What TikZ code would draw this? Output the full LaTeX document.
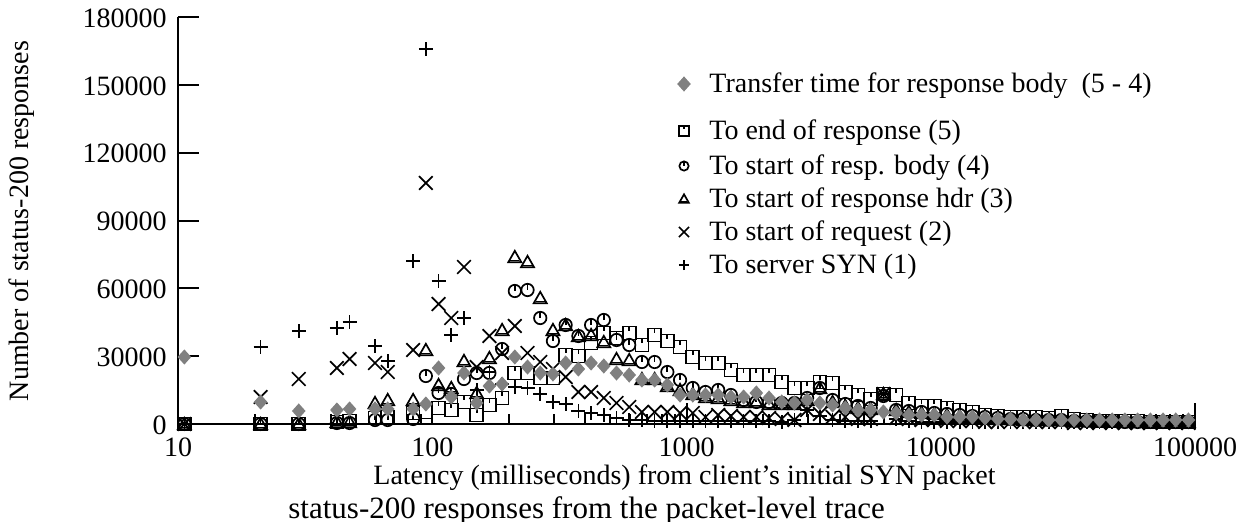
\documentclass[tikz,border=0pt]{standalone}
\usepackage{fontspec}
\setmainfont{Liberation Serif}
\definecolor{dgray}{RGB}{128,128,128}
\tikzset{
  mk/.style={line width=0.85pt, black},
  axisline/.style={line width=1pt, black},
  pics/msq/.style={code={\draw[mk] (-3.25pt,-3.25pt) rectangle (3.25pt,3.25pt); \draw[mk] (0pt,3.25pt) -- (0pt,1.1pt);}},
  pics/mci/.style={code={\draw[mk] (0pt,0pt) circle (3.1pt); \draw[mk] (0pt,3.1pt) -- (0pt,0pt);}},
  pics/mtr/.style={code={\draw[mk] (-3.25pt,-2.6pt) -- (3.25pt,-2.6pt) -- (0pt,3.1pt) -- cycle; \draw[mk] (-2.3pt,-1.7pt) -- (2.3pt,-1.7pt);}},
  pics/mx/.style={code={\draw[mk] (-3.4pt,-3.4pt) -- (3.4pt,3.4pt) (-3.4pt,3.4pt) -- (3.4pt,-3.4pt);}},
  pics/mp/.style={code={\draw[mk] (-3.5pt,0pt) -- (3.5pt,0pt) (0pt,-3.5pt) -- (0pt,3.5pt);}},
  pics/mdi/.style={code={\fill[dgray] (-3.4pt,0pt) -- (0pt,3.8pt) -- (3.4pt,0pt) -- (0pt,-3.8pt) -- cycle;}},
  ytl/.style={anchor=east, inner sep=0pt, font=\fontsize{14}{16}\selectfont},
  xtl/.style={anchor=center, inner sep=0pt, font=\fontsize{14}{16}\selectfont},
  legtext/.style={anchor=base west, inner sep=0pt, font=\fontsize{14}{16}\selectfont},
}
\begin{document}
\begin{tikzpicture}[x=0.5pt, y=-0.5pt]
\useasboundingbox (0,0) rectangle (1245,522);
% axes
\coordinate (o) at (178,424);
\coordinate (ytop) at (178,17);
\coordinate (xend) at (1195,424);
\draw[axisline] (ytop) -- (o) -- (xend);
\foreach \i/\lab in {0/0,1/30000,2/60000,3/90000,4/120000,5/150000,6/180000}{
  \draw[axisline] (178,424-67.83*\i) -- (199,424-67.83*\i);
  \node[ytl] (yl\i) at (167,425-67.83*\i) {\lab};
}
\foreach \j/\lab in {0/10,1/100,2/1000,3/10000,4/100000}{
  \draw[axisline] (178+254.25*\j,424) -- (178+254.25*\j,403);
  \node[xtl] (xl\j) at (178+254.25*\j,447) {\lab};
}
\foreach \j in {0,1,2,3}{
  \foreach \m in {2,...,9}{
    \draw[axisline] ({178+254.25*(\j+log10(\m))},424) -- ({178+254.25*(\j+log10(\m))},414);
  }
}
% axis titles
\node[rotate=90, font=\fontsize{14}{16}\selectfont] (ytitle) at (22,221) {Number of status-200 responses};
\node[anchor=base west, inner sep=0pt, font=\fontsize{14}{16}\selectfont] (xtitle) at (373,485) {Latency (milliseconds) from client’s initial SYN packet};
\node[anchor=base west, inner sep=0pt, font=\fontsize{15.5}{17}\selectfont] (caption) at (288,518) {status-200 responses from the packet-level trace};
% data
\begin{scope}[shift={(178,424)}, x=6.355pt, y=0.5pt]
% squares: to end of response (5)
\foreach \k/\h in {0/0,6/0,9/0,12/2,13/3,15/6,16/7,18/11,19/12,20/16,21/14,22/22,23/9,24/19,25/26,26/51,27/51,28/46,29/46,30/69,31/68,32/81,33/91,34/86,35/91,36/79,37/89,38/83,39/77,40/67,41/61,42/61,43/54,44/49,45/49,46/49,47/42,48/36,49/36,50/42,51/41,52/32,53/29,54/25,55/30,56/29,57/21,58/18,59/18,60/16,61/14,62/12,63/9,64/8,65/7,66/7,67/7,68/6,69/8,70/5,71/4,72/3,73/3,74/3,75/3,76/2,77/2,78/2,79/2}
  \pic at (\k+0.5,\h) {msq};
% circles: to start of resp. body (4)
\foreach \k/\h in {0/0,6/0,9/0,12/1,13/1,15/4,16/4,18/5,19/48,20/31,21/30,22/45,23/51,24/51,25/75,26/133,27/134,28/106,29/83,30/99,31/88,32/99,33/104,34/84,35/79,36/62,37/62,38/52,39/44,40/36,41/32,42/34,43/29,44/24,45/22,46/22,47/21,48/21,49/26,50/36,51/24,52/20,53/18,54/16,55/28,56/14,57/13,58/12,59/11,60/10,61/9,62/8,63/7,64/6,65/5,66/5,67/4,68/4,69/4,70/3,71/3,72/3,73/3,74/2,75/2,76/2,77/2,78/2,79/2}
  \pic at (\k+0.5,\h) {mci};
% triangles: to start of response hdr (3)
\foreach \k/\h in {0/0,6/0,9/0,12/2,13/2,15/21,16/24,18/24,19/74,20/39,21/36,22/63,23/31,24/66,25/94,26/167,27/162,28/126,29/94,30/99,31/88,32/89,33/82,34/65,35/64,36/45,37/45,38/38,39/34,40/30,41/27,42/26,43/24,44/22,45/22,46/20,47/20,48/20,49/24,50/36,51/22,52/18,53/16,54/15,55/30,56/14,57/12,58/11,59/10,60/9,61/8,62/7,63/6,64/5,65/5,66/4,67/4,68/4,69/4,70/3,71/3,72/3,73/3,74/2,75/2,76/2,77/2,78/2,79/2}
  \pic at (\k+0.5,\h) {mtr};
% crosses: to start of request (2)
\foreach \k/\h in {0/0,6/27,9/45,12/56,13/65,15/61,16/52,18/74,19/241,20/120,21/106,22/157,23/57,24/88,25/71,26/98,27/71,28/62,29/55,30/47,31/32,32/32,33/26,34/21,35/17,36/12,37/12,38/12,39/11,40/11,41/7,42/9,43/8,44/7,45/7,46/6,47/5,48/4,49/14,50/10,51/7,52/7,53/5,54/5,55/30,56/6,57/5,58/4,59/4,60/3,61/3,62/3,63/2,64/2,65/2,66/2,67/2,68/2,69/2,70/1,71/1,72/1,73/1,74/1,75/1,76/1,77/1,78/1,79/1}
  \pic at (\k+0.5,\h) {mx};
% plus: to server SYN (1)
\foreach \k/\h in {0/0,6/77,9/93,12/96,13/102,15/78,16/63,18/163,19/375,20/143,21/89,22/106,23/34,24/52,25/40,26/37,27/36,28/30,29/22,30/20,31/13,32/11,33/9,34/6,35/4,36/4,37/3,38/3,39/3,40/3,41/3,42/3,43/3,44/3,45/3,46/3,47/2,48/4,49/14,50/8,51/4,52/3,53/3,54/3,55/30,56/5,57/3,58/2,59/2,60/2,61/2,62/2,63/2,64/2,65/2,66/2,67/2,68/2,69/2,70/2,71/2,72/2,73/2,74/2,75/2,76/2,77/2,78/2,79/2}
  \pic at (\k+0.5,\h) {mp};
% diamonds: transfer time (5 - 4)
\foreach \k/\h in {0/67,6/22,9/13,12/14,13/15,15/15,16/15,18/15,19/20,20/56,21/27,22/51,23/21,24/38,25/40,26/67,27/57,28/51,29/50,30/61,31/55,32/61,33/58,34/51,35/49,36/44,37/44,38/39,39/29,40/29,41/29,42/29,43/27,44/27,45/31,46/26,47/22,48/21,49/24,50/21,51/19,52/16,53/14,54/14,55/12,56/11,57/9,58/9,59/9,60/7,61/7,62/7,63/6,64/5,65/5,66/4,67/4,68/4,69/4,70/4,71/4,72/4,73/4,74/4,75/4,76/4,77/4,78/4,79/4}
  \pic at (\k+0.5,\h) {mdi};
\end{scope}
% legend
\pic at (684,84) {mdi};
\node[legtext] (l1) at (709,93) {Transfer time for response body~~(5 - 4)};
\pic[scale=0.75] at (684,131) {msq};
\node[legtext] (l2) at (709,140) {To end of response (5)};
\pic[scale=0.75] at (684,166) {mci};
\node[legtext] (l3) at (709,175) {To start of resp. body (4)};
\pic[scale=0.75] at (684,199) {mtr};
\node[legtext] (l4) at (709,208) {To start of response hdr (3)};
\pic[scale=0.75] at (684,232) {mx};
\node[legtext] (l5) at (709,241) {To start of request (2)};
\pic[scale=0.75] at (684,265) {mp};
\node[legtext] (l6) at (709,274) {To server SYN (1)};
\end{tikzpicture}
\end{document}
